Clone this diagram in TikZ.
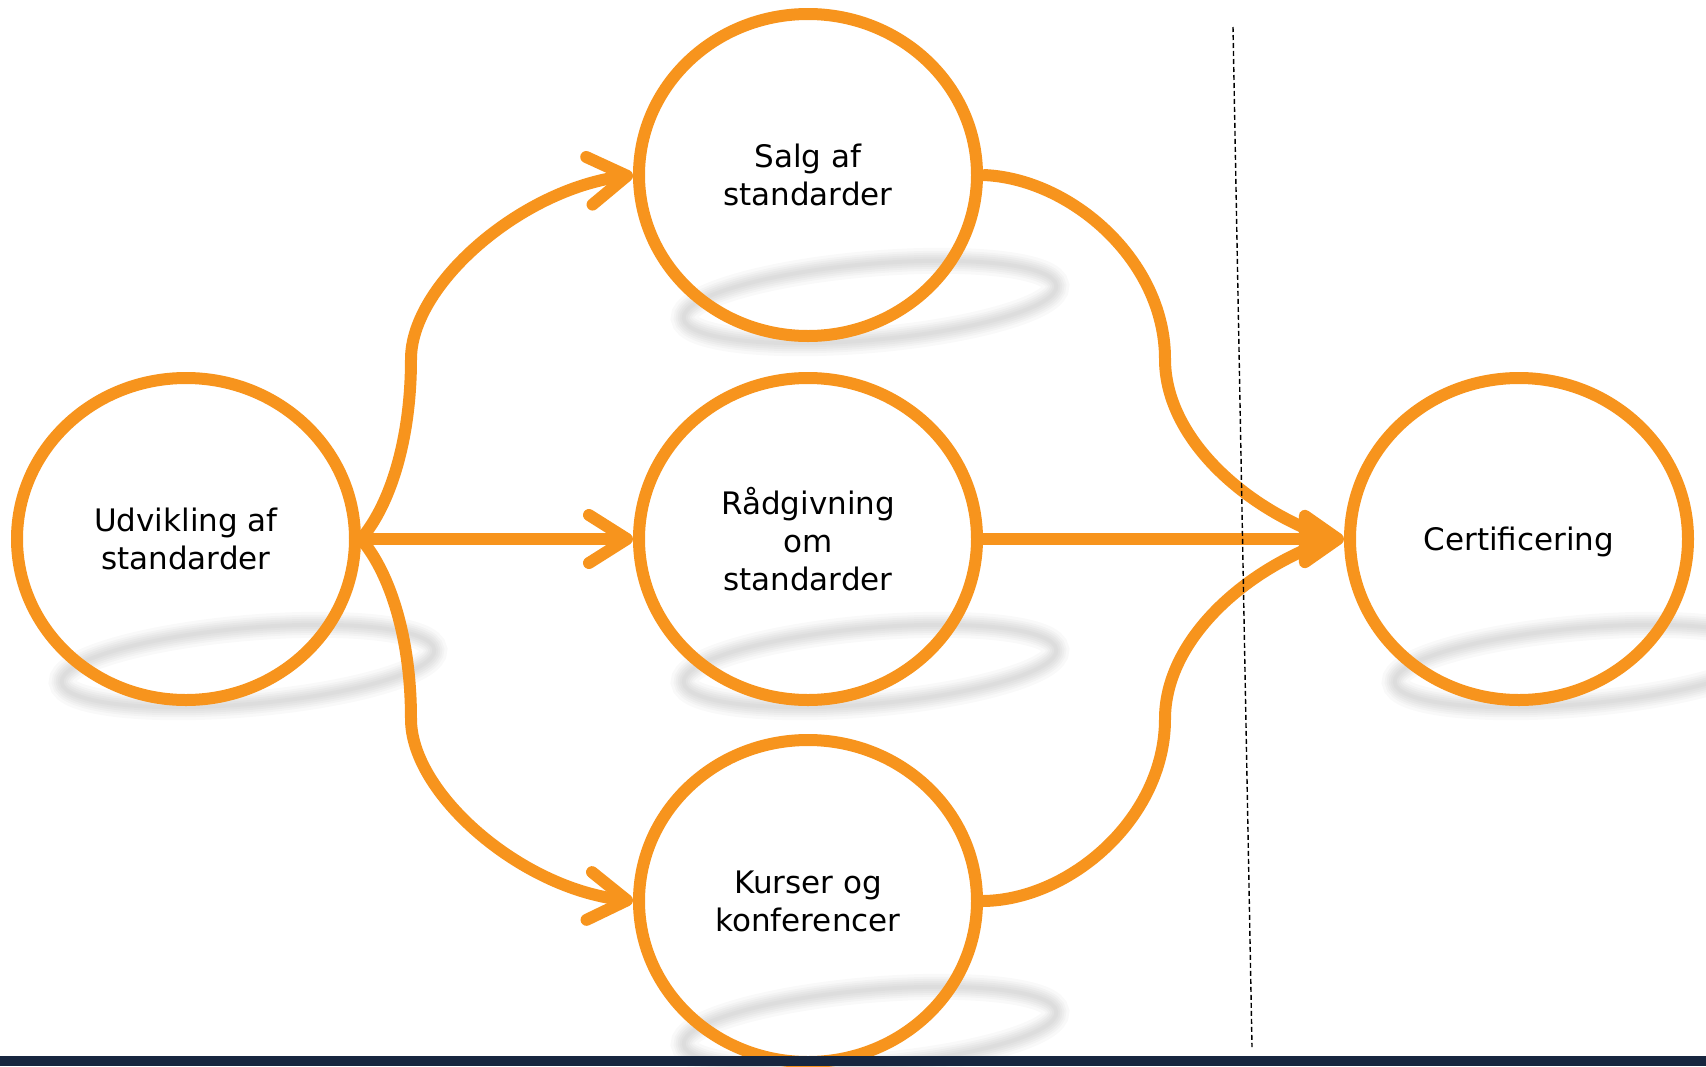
\documentclass[tikz,border=0pt]{standalone}
\usepackage{fontspec}
\setmainfont{DejaVu Sans}
\usetikzlibrary{arrows.meta,shapes.geometric}
\definecolor{org}{HTML}{F7941D}
\definecolor{navy}{HTML}{17263F}
\begin{document}
\begin{tikzpicture}[x=1pt,y=-1pt,
  bubble/.style={ellipse, draw=org, line width=12pt, minimum width=338pt, minimum height=322pt, inner sep=0pt, align=center, font=\fontsize{31}{38}\selectfont, text=black},
  link/.style={draw=org, line width=12pt},
  chev/.style={-{Straight Barb[length=38pt,width=48pt,round]}},
  bigtip/.style={-{Triangle[length=50pt,width=66pt,round]}},
  shadowring/.style={black, opacity=0.022}
  ]
\useasboundingbox (0,0) rectangle (1706,1066);
% shadows
\foreach \cx/\cy in {248/666, 870/302, 870/666, 870/1028, 1581/666}{
  \foreach \w in {4,8,12,16,20,26}{
    \draw[shadowring, line width=\w pt, rotate around={5:(\cx,\cy)}] (\cx,\cy) ellipse [x radius=187, y radius=38];
  }
}
% nodes
\node[bubble] (udv) at (186,539) {Udvikling af\\standarder};
\node[bubble] (salg) at (808,175) {Salg af\\standarder};
\node[bubble] (rad) at (808,539) {Rådgivning\\om\\standarder};
\node[bubble] (kur) at (808,901) {Kurser og\\konferencer};
\node[bubble, text depth=0pt] (cert) at (1519,539) {Certificering};
% connector ends
\coordinate (ua) at (1305,528);
\coordinate (la) at (1305,550);
\coordinate (dtop) at (1233,27);
\coordinate (dbot) at (1252,1047);
% connectors
\draw[link,chev] (udv.east) .. controls (390,505) and (411,440) .. (411,359) .. controls (411,285) and (520,190) .. (salg.west);
\draw[link,chev] (udv.east) -- (rad.west);
\draw[link,chev] (udv.east) .. controls (390,573) and (411,638) .. (411,719) .. controls (411,793) and (520,888) .. (kur.west);
\draw[link] (salg.east) .. controls (1070,178) and (1165,260) .. (1165,359) .. controls (1165,430) and (1230,495) .. (ua);
\draw[link] (kur.east) .. controls (1070,900) and (1165,818) .. (1165,719) .. controls (1165,648) and (1230,583) .. (la);
\draw[link,bigtip] (rad.east) -- (cert.west);
% dashed divider
\draw[black, line width=1.4pt, dash pattern=on 5pt off 3pt] (dtop) -- (dbot);
% bottom bar
\fill[navy] (0,1056) rectangle (1706,1066);
\end{tikzpicture}
\end{document}
